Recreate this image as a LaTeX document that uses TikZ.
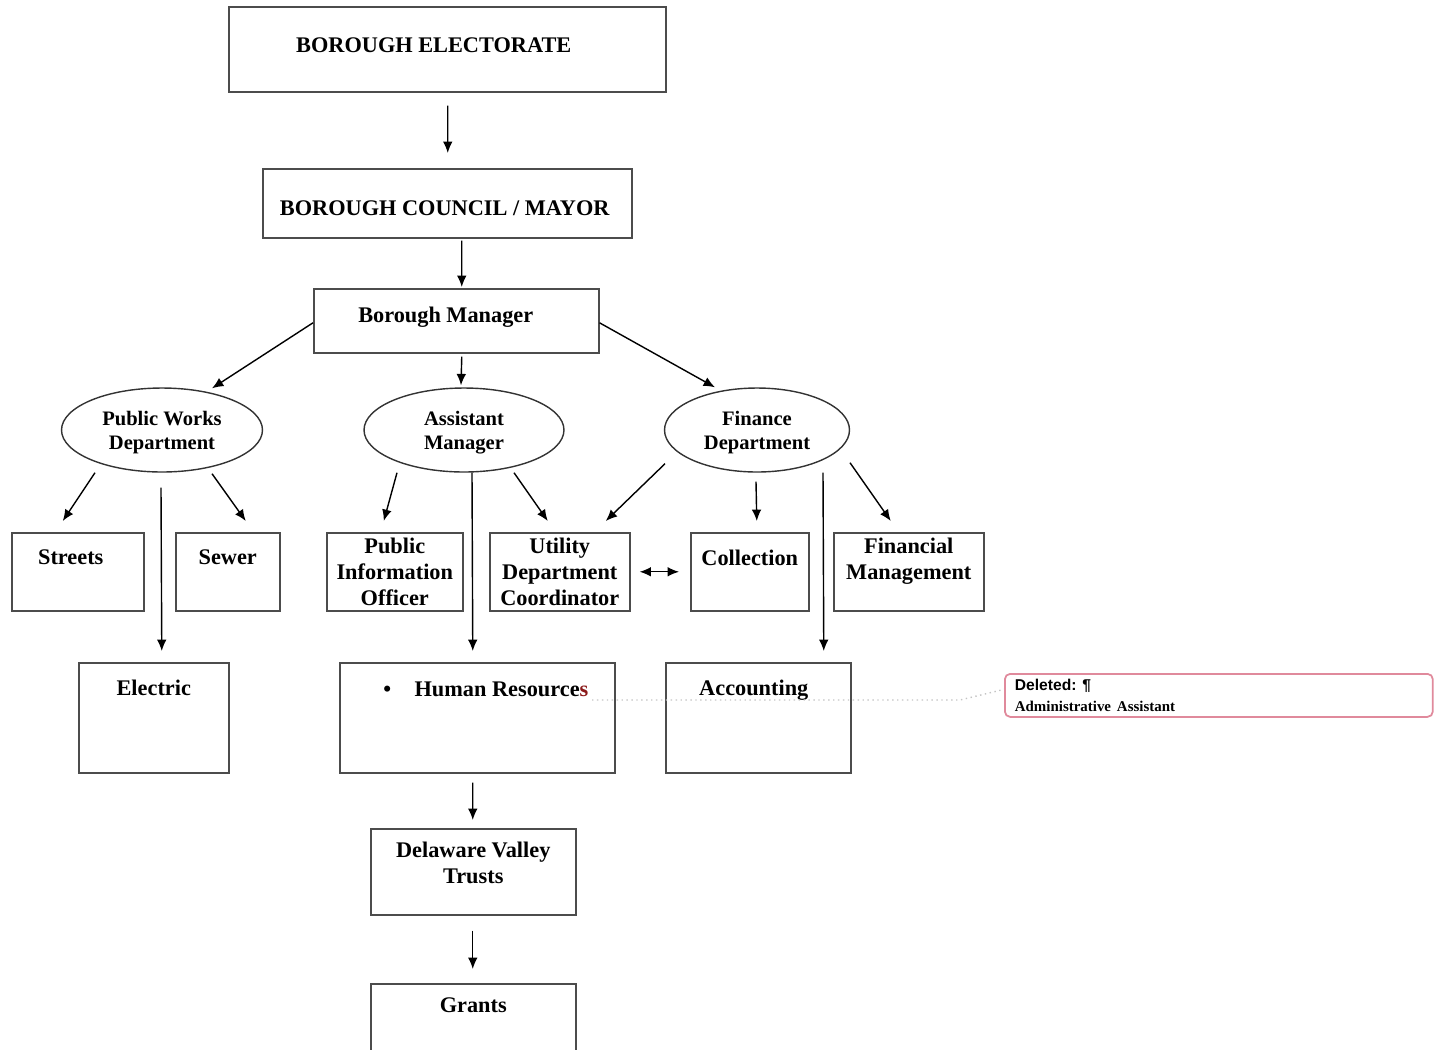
\documentclass[tikz,border=0pt]{standalone}
\usepackage{fontspec}
\setmainfont{Liberation Serif}
\newfontfamily\cmtsans{Liberation Sans}
\usetikzlibrary{arrows.meta,shapes.geometric,calc}
\definecolor{chgred}{HTML}{8B1A1A}
\definecolor{cmtpink}{HTML}{E08A9C}
\definecolor{trackgray}{HTML}{C4C4C4}

\begin{document}
\begin{tikzpicture}[
    x=0.02cm, y=-0.02cm,
    box/.style={draw=black!70, line width=0.9pt, anchor=north west, inner sep=0},
    oval/.style={ellipse, draw=black!80, line width=0.8pt, inner sep=0, align=center, text depth=0pt, font=\bfseries\fontsize{11.7}{13.7}\selectfont},
    txt/.style={inner sep=0, align=center, font=\bfseries\fontsize{12.7}{14.8}\selectfont},
    arrow/.style={-{Latex[length=6.5pt,width=5.5pt]}, line width=0.8pt},
    cmtbox/.style={draw=cmtpink, line width=1pt, rounded corners=3pt, anchor=north west, align=left, text width=8.16cm, inner xsep=0.2cm, inner ysep=0, minimum height=0.86cm},
    trackline/.style={draw=trackgray, dotted, line width=0.8pt}
]
\clip (0,0) rectangle (1440,1049);

\node[box, minimum width=8.74cm, minimum height=1.70cm, label={[txt, below=0.63cm, xshift=-0.27cm]north:BOROUGH ELECTORATE}] (elect) at (228,6) {};
\node[box, minimum width=7.38cm, minimum height=1.38cm, label={[txt, below=0.65cm, xshift=-0.05cm]north:BOROUGH COUNCIL / MAYOR}] (council) at (262,168) {};
\node[box, minimum width=5.70cm, minimum height=1.28cm, label={[txt, below=0.37cm, xshift=-0.21cm]north:Borough Manager}] (mgr) at (313,288) {};

\node[oval, minimum width=4.02cm, minimum height=1.68cm] (pw) at (162,430) {Public Works\\Department};
\node[oval, minimum width=4.00cm, minimum height=1.68cm] (am) at (464,430) {Assistant\\Manager};
\node[oval, minimum width=3.70cm, minimum height=1.68cm] (fd) at (757,430) {Finance\\Department};

\node[box, minimum width=2.64cm, minimum height=1.56cm, label={[txt, below=0.35cm, xshift=-0.14cm]north:Streets}] (streets) at (11,532) {};
\node[box, minimum width=2.08cm, minimum height=1.56cm, label={[txt, below=0.35cm]north:Sewer}] (sewer) at (175,532) {};
\node[box, minimum width=2.72cm, minimum height=1.56cm, label={[txt, below=0.11cm]north:Public\\Information\\Officer}] (pio) at (326,532) {};
\node[box, minimum width=2.80cm, minimum height=1.56cm, label={[txt, below=0.11cm]north:Utility\\Department\\Coordinator}] (udc) at (489,532) {};
\node[box, minimum width=2.36cm, minimum height=1.56cm, label={[txt, below=0.35cm]north:Collection}] (coll) at (690,532) {};
\node[box, minimum width=3.00cm, minimum height=1.56cm, label={[txt, below=0.11cm]north:Financial\\Management}] (finmgmt) at (833,532) {};

\node[box, minimum width=3.00cm, minimum height=2.20cm, label={[txt, below=0.35cm]north:Electric}] (electric) at (78,662) {};
\node[box, minimum width=5.50cm, minimum height=2.20cm, label={[txt, anchor=north west, xshift=0.88cm, yshift=-0.39cm]north west:{\textbullet\hspace{0.47cm}Human Resource\textcolor{chgred}{s}}}] (hr) at (339,662) {};
\node[box, minimum width=3.70cm, minimum height=2.20cm, label={[txt, below=0.35cm, xshift=-0.09cm]north:Accounting}] (acct) at (665,662) {};

\node[box, minimum width=4.10cm, minimum height=1.72cm, label={[txt, below=0.27cm]north:Delaware Valley\\Trusts}] (dvt) at (370,828) {};
\node[box, minimum width=4.10cm, minimum height=1.80cm, label={[txt, below=0.29cm]north:Grants}] (grants) at (370,983) {};

\node[cmtbox] (cmt) at (1004,673) {{\cmtsans\bfseries\fontsize{8.9}{9.7}\selectfont Deleted:~¶}\\{\bfseries\fontsize{8.5}{9.7}\selectfont Administrative~Assistant}};
\coordinate (chg) at ($(hr.north west)+(253,38)$);

\draw[arrow] ($(elect.south)+(0.5,13)$) -- ($(council.north)+(0.5,-15)$);
\draw[arrow] ($(council.south)+(14.5,2)$) -- ($(mgr.north)+(5.5,-1)$);
\draw[arrow] ($(mgr.west)+(0,2)$) -- ($(pw.north)+(50,1)$);
\draw[arrow] ($(mgr.south)+(5.5,3)$) -- ($(am.north)+(-3,-2)$);
\draw[arrow] ($(mgr.east)+(0,2)$) -- ($(fd.north)+(-42,0)$);
\draw[arrow] ($(pw.south)+(-67,0)$) -- ($(streets.north)+(-15,-11)$);
\draw[arrow] ($(pw.south)+(50,1)$) -- ($(sewer.north)+(18,-11)$);
\draw[arrow] ($(pw.south)+(-1,15)$) -- ($(electric.north)+(8,-11)$);
\draw[arrow] ($(am.south)+(-67,0)$) -- ($(pio.north)+(-11,-11)$);
\draw[arrow] ($(am.south)+(50,0)$) -- ($(udc.north)+(-12,-11)$);
\draw[arrow] ($(am.south)+(8,0)$) -- ($(hr.north)+(-4.5,-11)$);
\draw[arrow] ($(fd.south)+(-92,-9)$) -- ($(udc.north)+(46,-11)$);
\draw[arrow] ($(fd.south)+(-1,9)$) -- ($(coll.north)+(7,-11)$);
\draw[arrow] ($(fd.south)+(93,-10)$) -- ($(finmgmt.north)+(-18,-11)$);
\draw[arrow] ($(fd.south)+(66,0)$) -- ($(acct.north)+(65.5,-11)$);
\draw[arrow, {Latex[length=6.5pt,width=5.5pt]}-{Latex[length=6.5pt,width=5.5pt]}] ($(udc.east)+(9,0)$) -- ($(coll.west)+(-11,0)$);
\draw[arrow] ($(hr.south)+(-4.5,9)$) -- ($(dvt.north)+(-0.5,-8)$);
\draw[arrow] ($(dvt.south)+(-0.5,15)$) -- ($(grants.north)+(-0.5,-14)$);
\draw[trackline] (chg) -- ++(368,0) -- ($(cmt.west)+(0,-6)$);
\end{tikzpicture}
\end{document}
